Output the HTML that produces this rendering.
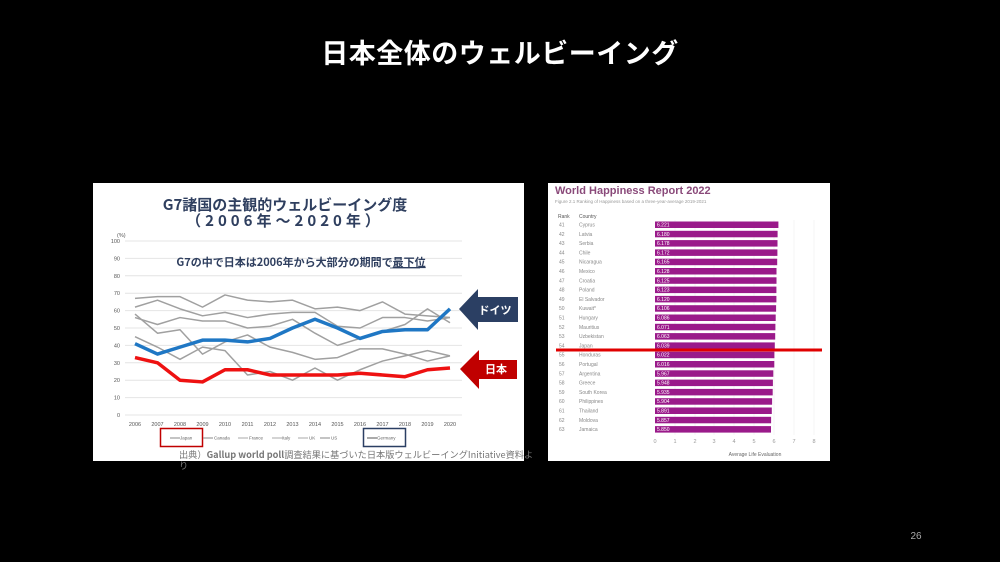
<!DOCTYPE html>
<html><head><meta charset="utf-8"><style>
html,body{margin:0;padding:0;background:#000;}
svg{display:block;font-family:"Liberation Sans","Noto Sans CJK JP",sans-serif;}
</style></head><body>
<svg width="1000" height="562" viewBox="0 0 1000 562" xmlns="http://www.w3.org/2000/svg">
<rect width="1000" height="562" fill="#000"/>
<text x="500" y="63" text-anchor="middle" fill="#fff" font-size="27" font-weight="bold" font-family="'Noto Sans CJK JP',sans-serif" letter-spacing="0.5">日本全体のウェルビーイング</text>

<!-- Left panel -->
<rect x="93" y="183" width="431" height="278" fill="#fff"/>
<text x="285" y="210" text-anchor="middle" fill="#2f3f5f" font-size="15" font-weight="bold" font-family="'Noto Sans CJK JP',sans-serif">G7諸国の主観的ウェルビーイング度</text>
<text x="285" y="226" text-anchor="middle" fill="#2f3f5f" font-size="15" font-weight="bold" font-family="'Noto Sans CJK JP',sans-serif" letter-spacing="4">（2006年～2020年）</text>
<g stroke="#e4e4e4" stroke-width="1">
<line x1="125" x2="462" y1="241" y2="241"/><line x1="125" x2="462" y1="258.4" y2="258.4"/><line x1="125" x2="462" y1="275.8" y2="275.8"/><line x1="125" x2="462" y1="293.2" y2="293.2"/><line x1="125" x2="462" y1="310.6" y2="310.6"/><line x1="125" x2="462" y1="328" y2="328"/><line x1="125" x2="462" y1="345.4" y2="345.4"/><line x1="125" x2="462" y1="362.8" y2="362.8"/><line x1="125" x2="462" y1="380.2" y2="380.2"/><line x1="125" x2="462" y1="397.6" y2="397.6"/><line x1="125" x2="462" y1="415" y2="415"/>
</g>
<g fill="#555" font-size="5.5" text-anchor="end">
<text x="120" y="243">100</text><text x="120" y="260.4">90</text><text x="120" y="277.8">80</text><text x="120" y="295.2">70</text><text x="120" y="312.6">60</text><text x="120" y="330">50</text><text x="120" y="347.4">40</text><text x="120" y="364.8">30</text><text x="120" y="382.2">20</text><text x="120" y="399.6">10</text><text x="120" y="417">0</text>
</g>
<text x="117" y="237" fill="#555" font-size="5.5">(%)</text>
<text x="301" y="266" text-anchor="middle" fill="#2f3f5f" font-size="11" font-weight="bold" font-family="'Noto Sans CJK JP',sans-serif">G7の中で日本は2006年から大部分の期間で<tspan text-decoration="underline">最下位</tspan></text>
<line x1="390" x2="420" y1="268" y2="268" stroke="#2f3f5f" stroke-width="0.8"/>
<g fill="#555" font-size="5.5" text-anchor="middle">
<text x="135" y="426">2006</text><text x="157.5" y="426">2007</text><text x="180" y="426">2008</text><text x="202.5" y="426">2009</text><text x="225" y="426">2010</text><text x="247.5" y="426">2011</text><text x="270" y="426">2012</text><text x="292.5" y="426">2013</text><text x="315" y="426">2014</text><text x="337.5" y="426">2015</text><text x="360" y="426">2016</text><text x="382.5" y="426">2017</text><text x="405" y="426">2018</text><text x="427.5" y="426">2019</text><text x="450" y="426">2020</text>
</g>
<g transform="translate(135,415) scale(22.5,-1.74)" fill="none" stroke-linejoin="round">
<g stroke="#a0a0a0" stroke-width="1.5">
<polyline vector-effect="non-scaling-stroke" points="0,67 1,68 2,68 3,62 4,69 5,66 6,65 7,66 8,61 9,62 10,60 11,65 12,58 13,57 14,56"/>
<polyline vector-effect="non-scaling-stroke" points="0,62 1,66 2,61 3,57 4,59 5,56 6,58 7,59 8,59 9,51 10,50 11,56 12,56 13,54 14,56"/>
<polyline vector-effect="non-scaling-stroke" points="0,58 1,47 2,49 3,35 4,42 5,46 6,39 7,36 8,32 9,33 10,38 11,38 12,35 13,31 14,34"/>
<polyline vector-effect="non-scaling-stroke" points="0,56 1,52 2,56 3,54 4,54 5,50 6,51 7,55 8,47 9,40 10,44 11,48 12,52 13,61 14,53"/>
<polyline vector-effect="non-scaling-stroke" points="0,45 1,39 2,32 3,39 4,37 5,23 6,25 7,20 8,27 9,20 10,26 11,31 12,34 13,37 14,34"/>
</g>
<polyline vector-effect="non-scaling-stroke" stroke="#1f77c4" stroke-width="3.5" points="0,41 1,35 2,39 3,43 4,43 5,42 6,44 7,50 8,55 9,50 10,44 11,48 12,49 13,49 14,61"/>
<polyline vector-effect="non-scaling-stroke" stroke="#ee1111" stroke-width="3.5" points="0,33 1,30 2,20 3,19 4,26 5,26 6,23 7,23 8,23 9,23 10,24 11,23 12,22 13,26 14,27"/>
</g>
<!-- arrows -->
<polygon points="459,309 478,289 478,297 518,297 518,322 478,322 478,330" fill="#2b3f63"/>
<text x="495" y="314" text-anchor="middle" fill="#fff" font-size="11" font-weight="bold" font-family="'Noto Sans CJK JP',sans-serif">ドイツ</text>
<polygon points="460,369 479,350 479,360 517,360 517,379 479,379 479,389" fill="#c00000"/>
<text x="496" y="373" text-anchor="middle" fill="#fff" font-size="11" font-weight="bold" font-family="'Noto Sans CJK JP',sans-serif">日本</text>
<!-- legend -->
<rect x="160.5" y="428.5" width="42" height="18" fill="none" stroke="#c00000" stroke-width="1.5"/>
<rect x="363.5" y="428.5" width="42" height="18" fill="none" stroke="#2b3f63" stroke-width="1.5"/>
<g font-size="4.5" fill="#666">
<line x1="170" x2="180" y1="438" y2="438" stroke="#888"/><text x="180" y="439.5">Japan</text>
<line x1="203" x2="213" y1="438" y2="438" stroke="#888"/><text x="214" y="439.5">Canada</text>
<line x1="238" x2="248" y1="438" y2="438" stroke="#aaa"/><text x="249" y="439.5">France</text>
<line x1="272" x2="282" y1="438" y2="438" stroke="#aaa"/><text x="282" y="439.5">Italy</text>
<line x1="298" x2="308" y1="438" y2="438" stroke="#aaa"/><text x="309" y="439.5">UK</text>
<line x1="320" x2="330" y1="438" y2="438" stroke="#888"/><text x="331" y="439.5">US</text>
<line x1="367" x2="377" y1="438" y2="438" stroke="#555"/><text x="377" y="439.5">Germany</text>
</g>
<text x="179" y="458" fill="#777" font-size="9.2" font-family="'Noto Sans CJK JP',sans-serif">出典）<tspan font-weight="bold">Gallup world poll</tspan>調査結果に基づいた日本版ウェルビーイングInitiative資料よ</text>
<text x="179" y="469" fill="#777" font-size="9.2" font-family="'Noto Sans CJK JP',sans-serif">り</text>

<!-- Right panel -->
<rect x="548" y="183" width="282" height="278" fill="#fff"/>
<text x="555" y="194" fill="#8a4a7a" font-size="11" font-weight="bold">World Happiness Report 2022</text>
<text x="555" y="203" fill="#999" font-size="4.5">Figure 2.1 Ranking of Happiness based on a three-year-average 2019-2021</text>
<text x="558" y="218" fill="#555" font-size="5">Rank</text><text x="579" y="218" fill="#555" font-size="5">Country</text>
<g stroke="#eee" stroke-width="0.6">
<line x1="675" x2="675" y1="220" y2="435"/><line x1="695" x2="695" y1="220" y2="435"/><line x1="714" x2="714" y1="220" y2="435"/><line x1="734" x2="734" y1="220" y2="435"/><line x1="754" x2="754" y1="220" y2="435"/><line x1="774" x2="774" y1="220" y2="435"/><line x1="794" x2="794" y1="220" y2="435"/><line x1="814" x2="814" y1="220" y2="435"/>
</g>
<g fill="#9a1a8a">
<rect x="655" y="221.5" width="123.4" height="6.5"/><rect x="655" y="230.8" width="122.6" height="6.5"/><rect x="655" y="240.1" width="122.5" height="6.5"/><rect x="655" y="249.4" width="122.4" height="6.5"/><rect x="655" y="258.7" width="122.2" height="6.5"/><rect x="655" y="268" width="121.5" height="6.5"/><rect x="655" y="277.3" width="121.5" height="6.5"/><rect x="655" y="286.6" width="121.4" height="6.5"/><rect x="655" y="295.9" width="121.4" height="6.5"/><rect x="655" y="305.2" width="121.1" height="6.5"/><rect x="655" y="314.5" width="120.7" height="6.5"/><rect x="655" y="323.8" width="120.4" height="6.5"/><rect x="655" y="333.1" width="120.2" height="6.5"/><rect x="655" y="342.4" width="119.8" height="6.5"/><rect x="655" y="351.7" width="119.4" height="6.5"/><rect x="655" y="361" width="119.3" height="6.5"/><rect x="655" y="370.3" width="118.3" height="6.5"/><rect x="655" y="379.6" width="117.9" height="6.5"/><rect x="655" y="388.9" width="117.7" height="6.5"/><rect x="655" y="398.2" width="117.1" height="6.5"/><rect x="655" y="407.5" width="116.8" height="6.5"/><rect x="655" y="416.8" width="116.1" height="6.5"/><rect x="655" y="426.1" width="116" height="6.5"/>
</g>
<g fill="#fff" font-size="5">
<text x="657" y="226.5">6.221</text><text x="657" y="235.8">6.180</text><text x="657" y="245.1">6.178</text><text x="657" y="254.4">6.172</text><text x="657" y="263.7">6.165</text><text x="657" y="273">6.128</text><text x="657" y="282.3">6.125</text><text x="657" y="291.6">6.123</text><text x="657" y="300.9">6.120</text><text x="657" y="310.2">6.106</text><text x="657" y="319.5">6.086</text><text x="657" y="328.8">6.071</text><text x="657" y="338.1">6.063</text><text x="657" y="347.4">6.039</text><text x="657" y="356.7">6.022</text><text x="657" y="366">6.016</text><text x="657" y="375.3">5.967</text><text x="657" y="384.6">5.948</text><text x="657" y="393.9">5.935</text><text x="657" y="403.2">5.904</text><text x="657" y="412.5">5.891</text><text x="657" y="421.8">5.857</text><text x="657" y="431.1">5.850</text>
</g>
<g fill="#888" font-size="5">
<text x="559" y="226.5">41</text><text x="579" y="226.5">Cyprus</text>
<text x="559" y="235.8">42</text><text x="579" y="235.8">Latvia</text>
<text x="559" y="245.1">43</text><text x="579" y="245.1">Serbia</text>
<text x="559" y="254.4">44</text><text x="579" y="254.4">Chile</text>
<text x="559" y="263.7">45</text><text x="579" y="263.7">Nicaragua</text>
<text x="559" y="273">46</text><text x="579" y="273">Mexico</text>
<text x="559" y="282.3">47</text><text x="579" y="282.3">Croatia</text>
<text x="559" y="291.6">48</text><text x="579" y="291.6">Poland</text>
<text x="559" y="300.9">49</text><text x="579" y="300.9">El Salvador</text>
<text x="559" y="310.2">50</text><text x="579" y="310.2">Kuwait*</text>
<text x="559" y="319.5">51</text><text x="579" y="319.5">Hungary</text>
<text x="559" y="328.8">52</text><text x="579" y="328.8">Mauritius</text>
<text x="559" y="338.1">53</text><text x="579" y="338.1">Uzbekistan</text>
<text x="559" y="347.4">54</text><text x="579" y="347.4">Japan</text>
<text x="559" y="356.7">55</text><text x="579" y="356.7">Honduras</text>
<text x="559" y="366">56</text><text x="579" y="366">Portugal</text>
<text x="559" y="375.3">57</text><text x="579" y="375.3">Argentina</text>
<text x="559" y="384.6">58</text><text x="579" y="384.6">Greece</text>
<text x="559" y="393.9">59</text><text x="579" y="393.9">South Korea</text>
<text x="559" y="403.2">60</text><text x="579" y="403.2">Philippines</text>
<text x="559" y="412.5">61</text><text x="579" y="412.5">Thailand</text>
<text x="559" y="421.8">62</text><text x="579" y="421.8">Moldova</text>
<text x="559" y="431.1">63</text><text x="579" y="431.1">Jamaica</text>
</g>
<g fill="#999" font-size="5.5" text-anchor="middle">
<text x="655" y="443">0</text><text x="675" y="443">1</text><text x="695" y="443">2</text><text x="714" y="443">3</text><text x="734" y="443">4</text><text x="754" y="443">5</text><text x="774" y="443">6</text><text x="794" y="443">7</text><text x="814" y="443">8</text>
</g>
<text x="755" y="456" text-anchor="middle" fill="#666" font-size="5">Average Life Evaluation</text>
<line x1="556" x2="822" y1="350" y2="350" stroke="#e00000" stroke-width="3"/>

<text x="916" y="539" text-anchor="middle" fill="#aaa" font-size="10">26</text>
</svg>
</body></html>
